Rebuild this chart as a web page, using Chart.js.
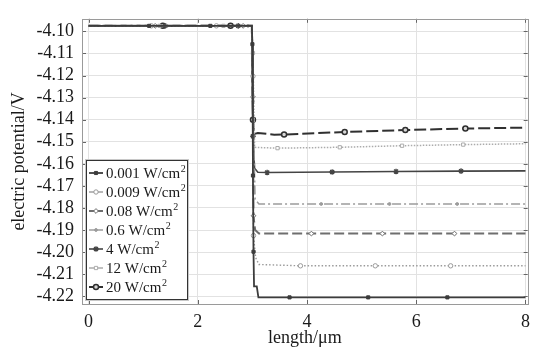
<!DOCTYPE html>
<html>
<head>
<meta charset="utf-8">
<style>
  html, body { margin: 0; padding: 0; background: #fff; }
  canvas { display: block; }
</style>
<script src="https://cdn.jsdelivr.net/npm/chart.js@4.4.0/dist/chart.umd.min.js"></script>
</head>
<body>
<canvas id="chart" width="537" height="349"></canvas>
<script>
// length (um) and electric potential (V) per irradiance, plus where markers sit
const length0001 = [0, 1.11, 2.23, 2.99, 3.0, 3.01, 3.02, 3.03, 3.08, 3.11, 3.68, 5.12, 6.57, 8];
const potential0001 = [-4.0975, -4.0975, -4.0975, -4.0975, -4.1058, -4.1653, -4.1998, -4.2155, -4.2155, -4.2205, -4.2205, -4.2205, -4.2205, -4.2205];
const markers0001 = [1.11, 2.23, 3.0, 3.01, 3.02, 3.68, 5.12, 6.57];

const length0009 = [0, 1.15, 2.34, 2.99, 3.01, 3.02, 3.06, 3.12, 3.88, 5.25, 6.63, 8];
const potential0009 = [-4.0975, -4.0975, -4.0975, -4.0975, -4.1203, -4.1925, -4.2026, -4.2056, -4.2062, -4.2062, -4.2062, -4.2062];
const markers0009 = [1.15, 2.34, 3.01, 3.02, 3.88, 5.25, 6.63];

const length008 = [0, 1.22, 2.83, 2.99, 3.01, 3.02, 3.05, 3.12, 4.08, 5.38, 6.7, 8];
const potential008 = [-4.0975, -4.0975, -4.0975, -4.0975, -4.1297, -4.1835, -4.1900, -4.1916, -4.1916, -4.1916, -4.1916, -4.1916];
const markers008 = [1.22, 2.83, 3.01, 3.02, 4.08, 5.38, 6.7];

const length06 = [0, 1.44, 2.92, 2.99, 3.01, 3.05, 3.12, 4.26, 5.51, 6.75, 8];
const potential06 = [-4.0975, -4.0975, -4.0975, -4.0975, -4.1318, -4.1762, -4.1782, -4.1782, -4.1782, -4.1782, -4.1782];
const markers06 = [1.44, 2.92, 3.01, 4.26, 5.51, 6.75];

const length4 = [0, 1.40, 2.74, 2.99, 3.01, 3.04, 3.1, 3.27, 4.46, 5.63, 6.82, 8];
const potential4 = [-4.0975, -4.0975, -4.0975, -4.0975, -4.1475, -4.1620, -4.1638, -4.1639, -4.1637, -4.1635, -4.1633, -4.1632];
const markers4 = [1.40, 2.74, 3.01, 3.27, 4.46, 5.63, 6.82];

const length12 = [0, 1.30, 2.47, 2.99, 3.01, 3.04, 3.1, 3.46, 4.6, 5.74, 6.86, 8];
const potential12 = [-4.0975, -4.0975, -4.0975, -4.0975, -4.1098, -4.1525, -4.1526, -4.1529, -4.1525, -4.1518, -4.1513, -4.1509];
const markers12 = [1.30, 2.47, 3.01, 3.46, 4.6, 5.74, 6.86];

const length20 = [0, 1.36, 2.60, 2.99, 3.01, 3.03, 3.1, 3.4, 3.58, 4.69, 5.8, 6.9, 8];
const potential20 = [-4.0975, -4.0975, -4.0975, -4.0975, -4.1400, -4.1465, -4.1460, -4.1468, -4.1467, -4.1456, -4.1447, -4.1440, -4.1436];
const markers20 = [1.36, 2.60, 3.01, 3.58, 4.69, 5.8, 6.9];

const labels = ['0.001', '0.009', '0.08', '0.6', '4', '12', '20'];
const xTicks = [0, 2, 4, 6, 8];
const yTicks = [-4.22, -4.21, -4.20, -4.19, -4.18, -4.17, -4.16, -4.15, -4.14, -4.13, -4.12, -4.11, -4.10];

const SERIF = '"Liberation Serif", "Times New Roman", serif';

function series(xs, ys, marks, label, style) {
    return {
        label: `${label} W/cm`,
        data: xs.map((x, i) => ({ x, y: ys[i] })),
        showLine: true,
        tension: 0,
        borderColor: style.color,
        borderWidth: style.width,
        borderDash: style.dash,
        pointStyle: style.point,
        pointBackgroundColor: style.fill,
        pointBorderColor: style.pointColor || style.color,
        pointBorderWidth: style.pointWidth || 1,
        pointRadius: (ctx) => (ctx.raw && marks.includes(ctx.raw.x) ? style.radius : 0),
        markerRadius: style.radius,
    };
}

const datasets = [
    series(length0001, potential0001, markers0001, labels[0], { color: '#3c3c3c', width: 1.8, dash: [], point: 'rect', fill: '#3c3c3c', radius: 2.2 }),
    series(length0009, potential0009, markers0009, labels[1], { color: '#9a9a9a', width: 1.4, dash: [1.5, 2], point: 'circle', fill: '#ffffff', radius: 2.2 }),
    series(length008, potential008, markers008, labels[2], { color: '#6e6e6e', width: 2, dash: [10, 4], point: 'rectRot', fill: '#ffffff', radius: 2.4 }),
    series(length06, potential06, markers06, labels[3], { color: '#9c9c9c', width: 1.5, dash: [9, 3, 2, 3], point: 'circle', fill: '#9c9c9c', radius: 1.4 }),
    series(length4, potential4, markers4, labels[4], { color: '#444444', width: 1.6, dash: [], point: 'star', fill: '#444444', radius: 2.8, pointWidth: 1.3 }),
    series(length12, potential12, markers12, labels[5], { color: '#ababab', width: 1.5, dash: [1.5, 1.5], point: 'rect', fill: '#ffffff', radius: 2.3 }),
    series(length20, potential20, markers20, labels[6], { color: '#303030', width: 2, dash: [12, 4], point: 'circle', fill: '#d8d8d8', radius: 2.5, pointWidth: 1.5 }),
];

const frameAndTicks = {
    id: 'frameAndTicks',
    afterDatasetsDraw(chart) {
        const { ctx, chartArea: a, scales } = chart;
        ctx.save();
        ctx.strokeStyle = '#666';
        ctx.lineWidth = 1;
        ctx.beginPath();
        xTicks.forEach((v) => {
            const px = Math.round(scales.x.getPixelForValue(v)) + 0.5;
            ctx.moveTo(px, a.bottom); ctx.lineTo(px, a.bottom - 4);
            ctx.moveTo(px, a.top); ctx.lineTo(px, a.top + 4);
        });
        yTicks.forEach((v) => {
            const py = Math.round(scales.y.getPixelForValue(v)) + 0.5;
            ctx.moveTo(a.left, py); ctx.lineTo(a.left + 4, py);
            ctx.moveTo(a.right, py); ctx.lineTo(a.right - 4, py);
        });
        ctx.stroke();
        ctx.strokeStyle = '#9a9a9a';
        ctx.strokeRect(Math.round(a.left) + 0.5, Math.round(a.top) + 0.5, Math.round(a.right - a.left), Math.round(a.bottom - a.top));
        ctx.restore();
    },
};

const boxLegend = {
    id: 'boxLegend',
    afterDraw(chart) {
        const { ctx } = chart;
        const left = 86, top = 160, right = 188, bottom = 300;
        ctx.save();
        ctx.fillStyle = '#fff';
        ctx.fillRect(left, top, right - left, bottom - top);
        ctx.strokeStyle = '#c8c8c8';
        ctx.lineWidth = 1;
        ctx.strokeRect(left - 0.5, top - 0.5, right - left + 1, bottom - top + 1);
        ctx.strokeStyle = '#333';
        ctx.strokeRect(left + 0.5, top + 0.5, right - left - 1, bottom - top - 1);

        chart.data.datasets.forEach((ds, i) => {
            const y = 173 + i * 19;
            ctx.setLineDash([]);
            ctx.strokeStyle = ds.borderColor;
            ctx.lineWidth = ds.borderWidth;
            ctx.beginPath();
            ctx.moveTo(89, y);
            ctx.lineTo(103, y);
            ctx.stroke();

            ctx.fillStyle = ds.pointBackgroundColor;
            ctx.strokeStyle = ds.pointBorderColor;
            ctx.lineWidth = ds.pointBorderWidth;
            Chart.helpers.drawPoint(ctx, { pointStyle: ds.pointStyle, radius: ds.markerRadius, borderWidth: ds.pointBorderWidth, rotation: 0 }, 96, y);

            ctx.fillStyle = '#1a1a1a';
            ctx.textBaseline = 'middle';
            ctx.textAlign = 'left';
            ctx.font = `15px ${SERIF}`;
            ctx.fillText(ds.label, 106, y + 1);
            const w = ctx.measureText(ds.label).width;
            ctx.font = `10px ${SERIF}`;
            ctx.fillText('2', 106 + w + 0.5, y - 4);
        });
        ctx.restore();
    },
};

new Chart(document.getElementById('chart'), {
    type: 'scatter',
    data: { datasets },
    options: {
        responsive: false,
        animation: false,
        layout: { padding: { top: 11, right: 4, left: 0, bottom: 0 } },
        plugins: { legend: { display: false }, tooltip: { enabled: false } },
        scales: {
            x: {
                type: 'linear',
                min: -0.12,
                max: 8.04,
                afterBuildTicks: (scale) => { scale.ticks = xTicks.map((value) => ({ value })); },
                afterFit: (scale) => { scale.height = 45; },
                grid: { color: '#e2e2e2', drawTicks: false },
                border: { display: false },
                ticks: { color: '#1a1a1a', font: { family: SERIF, size: 18 }, padding: 7, maxRotation: 0, autoSkip: false },
                title: { display: true, text: 'length/μm', color: '#1a1a1a', font: { family: SERIF, size: 18 }, padding: { top: 0, bottom: 0 } },
            },
            y: {
                type: 'linear',
                min: -4.2235,
                max: -4.0943,
                afterBuildTicks: (scale) => { scale.ticks = yTicks.map((value) => ({ value })); },
                afterFit: (scale) => { scale.width = 82; },
                grid: { color: '#e2e2e2', drawTicks: false },
                border: { display: false },
                ticks: { color: '#1a1a1a', font: { family: SERIF, size: 18 }, padding: 8, autoSkip: false, callback: (v) => Number(v).toFixed(2) },
                title: { display: true, text: 'electric potential/V', color: '#1a1a1a', font: { family: SERIF, size: 18 }, padding: { top: 8, bottom: 0 } },
            },
        },
    },
    plugins: [frameAndTicks, boxLegend],
});
</script>
</body>
</html>
